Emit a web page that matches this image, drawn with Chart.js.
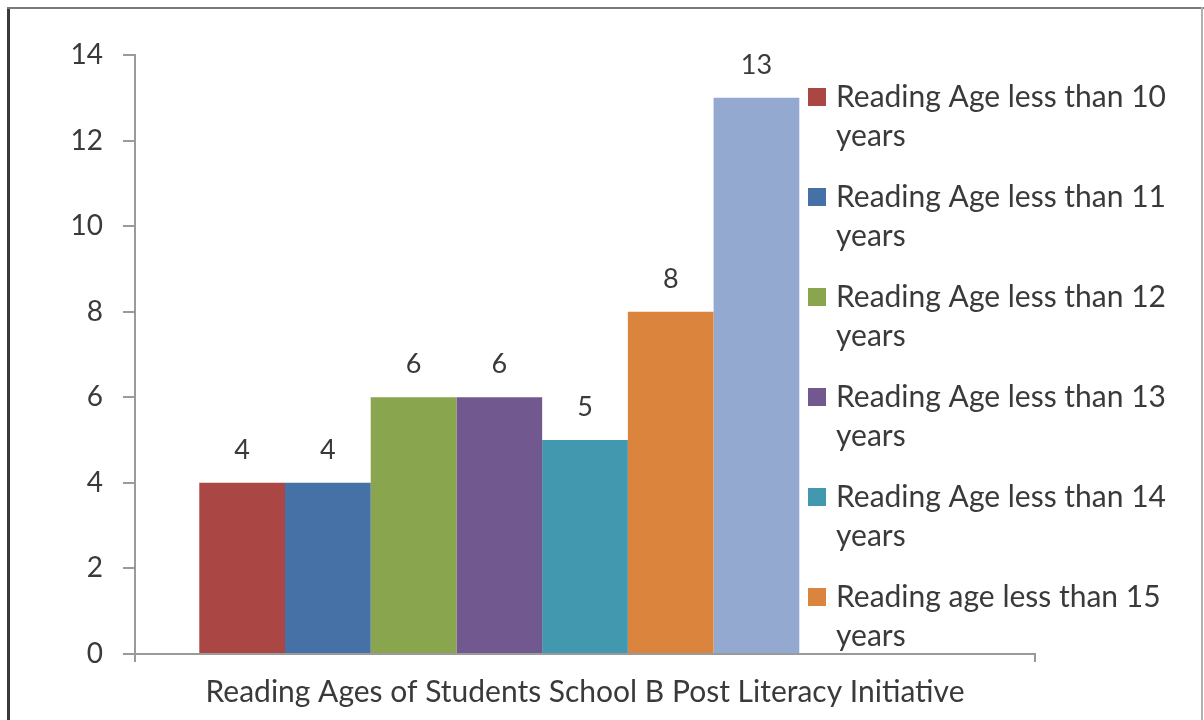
<!DOCTYPE html>
<html>
<head>
<meta charset="utf-8">
<script src="https://cdn.jsdelivr.net/npm/chart.js@4/dist/chart.umd.min.js"></script>
<style>
  html, body { margin: 0; padding: 0; background: #fff; }
  canvas { display: block; }
</style>
</head>
<body>
<canvas id="reading-chart" width="1204" height="720"></canvas>
<script>
const category = "Reading Ages of Students School B Post Literacy Initiative";

const seriesLabels = [
  "Reading Age less than 10 years",
  "Reading Age less than 11 years",
  "Reading Age less than 12 years",
  "Reading Age less than 13 years",
  "Reading Age less than 14 years",
  "Reading age less than 15 years",
  "",
  "",
  ""
];
const seriesValues = [4, 4, 6, 6, 5, 8, 13, null, null];
const seriesColors = [
  "#AA4643", "#4571A6", "#89A54E", "#71588F",
  "#4198AF", "#DB843D", "#93A9CF", "#A47D7C", "#B5CA92"
];
const yTicks = [0, 2, 4, 6, 8, 10, 12, 14];

const FONT = "Lato, 'Open Sans', sans-serif";
const TEXT = "#3a3a3a";
const AXIS = "#9a9a9a";

// outer frame of the chart object
const framePlugin = {
  id: "frame",
  beforeDraw(chart) {
    const c = chart.ctx;
    c.save();
    c.fillStyle = "#fff";
    c.fillRect(0, 0, chart.width, chart.height);
    c.fillStyle = "#3a3a3a";
    c.fillRect(7, 7, 3, chart.height - 7);
    c.fillStyle = "#7a7a7a";
    c.fillRect(7, 7, chart.width - 7, 2);
    c.fillStyle = "#b0b0b0";
    c.fillRect(chart.width - 3, 7, 2, chart.height - 7);
    c.restore();
  }
};

// value printed above each bar
const valueLabels = {
  id: "valueLabels",
  afterDatasetsDraw(chart) {
    const c = chart.ctx;
    c.save();
    c.font = "27px " + FONT;
    c.fillStyle = TEXT;
    c.textAlign = "center";
    c.textBaseline = "alphabetic";
    chart.data.datasets.forEach((ds, i) => {
      const meta = chart.getDatasetMeta(i);
      meta.data.forEach((bar, j) => {
        const v = ds.data[j];
        if (v == null) return;
        c.fillText(String(v), bar.x, bar.y - 24);
      });
    });
    c.restore();
  }
};

// wrapped legend sitting over the right side of the plot
const sideLegend = {
  id: "sideLegend",
  afterDraw(chart) {
    const c = chart.ctx;
    const x0 = 808, y0 = 97, gap = 100, lineH = 39, maxW = 350, box = 18;
    c.save();
    c.font = "30px " + FONT;
    c.textBaseline = "middle";
    c.textAlign = "left";
    let row = 0;
    chart.data.datasets.forEach((ds) => {
      if (!ds.label) return;
      const y = y0 + row * gap;
      if (y > chart.height) return;
      c.fillStyle = ds.backgroundColor;
      c.fillRect(x0, y - box / 2, box, box);
      const words = ds.label.split(" ");
      const lines = [];
      let cur = "";
      words.forEach((w) => {
        const t = cur ? cur + " " + w : w;
        if (c.measureText(t).width > maxW && cur) {
          lines.push(cur);
          cur = w;
        } else {
          cur = t;
        }
      });
      lines.push(cur);
      c.fillStyle = TEXT;
      lines.forEach((ln, k) => c.fillText(ln, x0 + 28, y + k * lineH));
      row++;
    });
    c.restore();
  }
};

const datasets = seriesValues.map((v, i) => ({
  label: seriesLabels[i],
  data: [v],
  backgroundColor: seriesColors[i],
  borderWidth: 0
}));

new Chart(document.getElementById("reading-chart"), {
  type: "bar",
  data: { labels: [category], datasets },
  options: {
    responsive: false,
    animation: false,
    categoryPercentage: 9 / 10.5,
    barPercentage: 1,
    layout: { padding: { left: 0, top: 55, right: 169, bottom: 0 } },
    plugins: {
      legend: { display: false },
      tooltip: { enabled: false },
      title: { display: false }
    },
    scales: {
      x: {
        grid: {
          offset: true,
          drawOnChartArea: false,
          tickLength: 8,
          color: AXIS,
          lineWidth: 2
        },
        border: { color: AXIS, width: 2 },
        ticks: {
          color: TEXT,
          font: { family: FONT, size: 30 },
          padding: 12
        },
        afterFit(scale) { scale.height = 66; }
      },
      y: {
        min: 0,
        max: 14,
        afterBuildTicks(scale) { scale.ticks = yTicks.map((v) => ({ value: v })); },
        grid: {
          drawOnChartArea: false,
          tickLength: 12,
          color: AXIS,
          lineWidth: 2
        },
        border: { color: AXIS, width: 2 },
        ticks: {
          color: TEXT,
          font: { family: FONT, size: 28 },
          padding: 20
        },
        afterFit(scale) { scale.width = 135; }
      }
    }
  },
  plugins: [framePlugin, valueLabels, sideLegend]
});
</script>
</body>
</html>
